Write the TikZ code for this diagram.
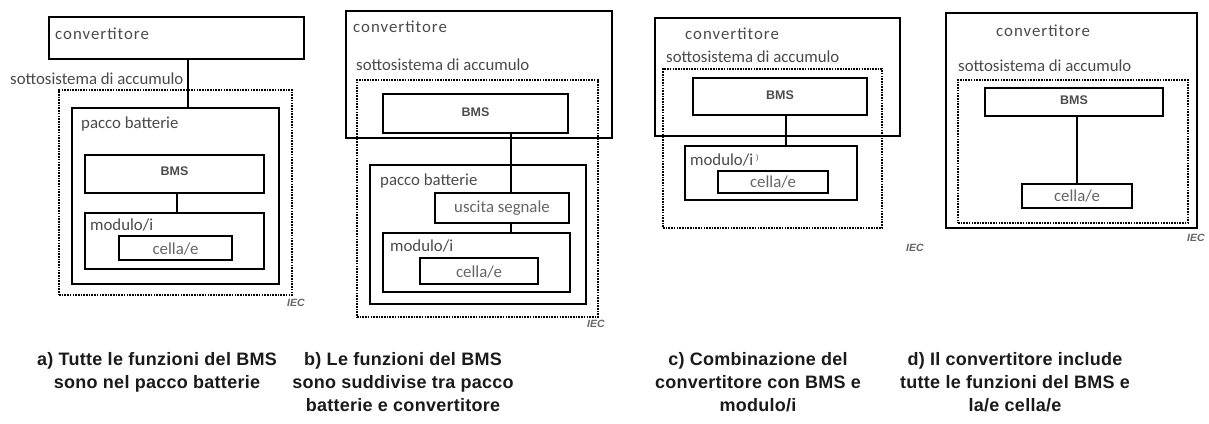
\documentclass[tikz,border=0pt]{standalone}
\usepackage{fontspec}
\usetikzlibrary{fit}
\newfontfamily\panelfont{Carlito}
\newfontfamily\panelspaced{Carlito}[LetterSpace=6]
\newfontfamily\capfont{Liberation Sans}[LetterSpace=1.5]
\newfontfamily\bmsfont{Liberation Sans}
\definecolor{txtgray}{HTML}{4A4A4A}
\definecolor{capcol}{HTML}{1A1A1A}
\begin{document}
\begin{tikzpicture}[x=1pt,y=-1pt,
  box/.style={draw=black, line width=2pt, inner sep=0pt},
  dotbox/.style={draw=black, line width=2pt, dash pattern=on 1.6pt off 1.1pt, inner sep=0pt},
  lbl/.style={inner sep=0pt, anchor=base west, text=txtgray, font=\panelfont\fontsize{16.8}{18}\selectfont},
  convlbl/.style={lbl, font=\panelspaced\fontsize{16.8}{18}\selectfont},
  boxtxt/.style={inner sep=0pt, anchor=base, text=txtgray!85, font=\panelfont\fontsize{16.8}{18}\selectfont},
  bmstxt/.style={inner sep=0pt, anchor=base, text=black!70, font=\bmsfont\bfseries\fontsize{12.5}{13}\selectfont},
  ieclbl/.style={inner sep=0pt, anchor=base west, text=black!60, font=\bmsfont\bfseries\itshape\fontsize{10.5}{11}\selectfont},
  conn/.style={draw=black, line width=2pt},
  caption/.style={inner sep=0pt, anchor=north, align=center, text=capcol, font=\capfont\bfseries\fontsize{18}{23}\selectfont}
]
\useasboundingbox (0,0) rectangle (1209,423);
\fill[white] (0,0) rectangle (1209,423);

% ---------- panel a ----------
\node[box, fit={(49,17) (304,59)}] (convA) {};
\node[convlbl] (tconvA) at (55,39) {convertitore};
\node[lbl] (tsottoA) at (10,84) {sottosistema di accumulo};
\node[dotbox, fit={(59,90) (292,295)}] (dotA) {};
\node[box, fit={(72,108) (279,284)}] (paccoA) {};
\node[lbl] (tpaccoA) at (81,128) {pacco batterie};
\node[box, fit={(85,155) (264,193)}] (bmsA) {};
\node[bmstxt, yshift=-1.5pt] (tbmsA) at (bmsA.center) {BMS};
\node[box, fit={(85,213) (264,269)}] (modA) {};
\node[lbl] (tmodA) at (90,230) {modulo/i};
\node[box, fit={(119,236) (232,260)}] (cellaA) {};
\node[boxtxt, yshift=-6pt] (tcellaA) at (cellaA.center) {cella/e};
\node[ieclbl] (iecA) at (287,306) {IEC};
\coordinate (xa) at (188,0);
\draw[conn] (convA.south -| xa) -- (paccoA.north -| xa);
\coordinate (xa2) at (177,0);
\draw[conn] (bmsA.south -| xa2) -- (modA.north -| xa2);

% ---------- panel b ----------
\node[box, fit={(346,11) (612,138)}] (convB) {};
\node[convlbl] (tconvB) at (353,32) {convertitore};
\node[lbl] (tsottoB) at (356,70) {sottosistema di accumulo};
\node[dotbox, fit={(357,80) (598,317)}] (dotB) {};
\node[box, fit={(383,94) (568,133)}] (bmsB) {};
\node[bmstxt, yshift=-3pt] (tbmsB) at (bmsB.center) {BMS};
\node[box, fit={(370,165) (586,304)}] (paccoB) {};
\node[lbl] (tpaccoB) at (380,185) {pacco batterie};
\node[box, fit={(435,193) (569,223)}] (uscB) {};
\node[boxtxt, yshift=-4.5pt] (tuscB) at (uscB.center) {uscita segnale};
\node[box, fit={(383,233) (570,292)}] (modB) {};
\node[lbl] (tmodB) at (390,251) {modulo/i};
\node[box, fit={(420,258) (538,284)}] (cellaB) {};
\node[boxtxt, yshift=-6pt] (tcellaB) at (cellaB.center) {cella/e};
\node[ieclbl] (iecB) at (587,327) {IEC};
\coordinate (xb) at (511,0);
\draw[conn] (bmsB.south -| xb) -- (uscB.north -| xb);
\draw[conn] (uscB.south -| xb) -- (modB.north -| xb);

% ---------- panel c ----------
\node[box, fit={(655,18) (900,136)}] (convC) {};
\node[convlbl] (tconvC) at (685,39) {convertitore};
\node[lbl] (tsottoC) at (666,62) {sottosistema di accumulo};
\node[dotbox, fit={(663,69) (882,228)}] (dotC) {};
\node[box, fit={(693,78) (867,115)}] (bmsC) {};
\node[bmstxt, yshift=-2.5pt] (tbmsC) at (bmsC.center) {BMS};
\node[box, fit={(685,146) (857,200)}] (modC) {};
\node[lbl] (tmodC) at (690,165) {modulo/i\,\raisebox{5pt}{\fontsize{8}{8}\selectfont )}};
\node[box, fit={(718,171) (828,193)}] (cellaC) {};
\node[boxtxt, yshift=-5pt] (tcellaC) at (cellaC.center) {cella/e};
\node[ieclbl] (iecC) at (906,251) {IEC};
\coordinate (xc) at (786,0);
\draw[conn] (bmsC.south -| xc) -- (modC.north -| xc);

% ---------- panel d ----------
\node[box, fit={(946,13) (1197,228)}] (convD) {};
\node[convlbl] (tconvD) at (996,36) {convertitore};
\node[lbl] (tsottoD) at (958,71) {sottosistema di accumulo};
\node[dotbox, fit={(958,80) (1188,223)}] (dotD) {};
\node[box, fit={(985,88) (1163,116)}] (bmsD) {};
\node[bmstxt, yshift=-2.5pt] (tbmsD) at (bmsD.center) {BMS};
\node[box, fit={(1022,184) (1132,208)}] (cellaD) {};
\node[boxtxt, yshift=-5.5pt] (tcellaD) at (cellaD.center) {cella/e};
\node[ieclbl] (iecD) at (1187,241) {IEC};
\coordinate (xd) at (1077,0);
\draw[conn] (bmsD.south -| xd) -- (cellaD.north -| xd);

% ---------- captions ----------
\node[caption] (capA) at (157,352) {a) Tutte le funzioni del BMS\\sono nel pacco batterie};
\node[caption] (capB) at (403,352) {b) Le funzioni del BMS\\sono suddivise tra pacco\\batterie e convertitore};
\node[caption] (capC) at (758,352) {c) Combinazione del\\convertitore con BMS e\\modulo/i};
\node[caption] (capD) at (1015,352) {d) Il convertitore include\\tutte le funzioni del BMS e\\la/e cella/e};
\end{tikzpicture}
\end{document}
